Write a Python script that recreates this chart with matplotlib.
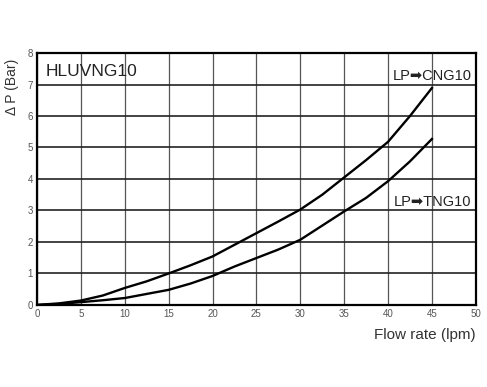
import numpy as np
import matplotlib
matplotlib.use("Agg")
from matplotlib import pyplot as plt

plt.rcParams['font.family'] = ['Liberation Sans', 'DejaVu Sans']

# data
flow = [0, 2.5, 5, 7.5, 10, 12.5, 15, 17.5, 20, 22.5, 25, 27.5, 30, 32.5, 35, 37.5, 40, 42.5, 45]
dp_cng = [0, 0.05, 0.14, 0.3, 0.54, 0.75, 1.0, 1.26, 1.54, 1.91, 2.28, 2.65, 3.03, 3.5, 4.05, 4.6, 5.18, 6.0, 6.89]
dp_tng = [0, 0.03, 0.09, 0.15, 0.22, 0.35, 0.48, 0.68, 0.92, 1.22, 1.49, 1.76, 2.07, 2.52, 2.97, 3.4, 3.93, 4.56, 5.27]

fig = plt.figure(figsize=(4.87, 3.87), dpi=100)
ax = fig.add_axes([0.076, 0.212, 0.901, 0.651])

ax.plot(flow, dp_cng, color='black', lw=1.7)
ax.plot(flow, dp_tng, color='black', lw=1.7)

ax.set_xlim(0, 50)
ax.set_ylim(0, 8)
ax.set_xticks(np.arange(0, 51, 5))
ax.set_yticks(np.arange(0, 9, 1))
ax.grid(True, axis='y', color='#222222', lw=1.2)
ax.grid(True, axis='x', color='#555555', lw=0.9)
ax.tick_params(length=0, labelsize=7, labelcolor='#555555', pad=3)
for s in ax.spines.values():
    s.set_linewidth(1.6)
    s.set_color('black')

ax.text(1.0, 7.4, 'HLUVNG10', fontsize=12.5, color='#222222', va='center')
ax.text(49.5, 7.27, 'LP➡CNG10', fontsize=10.5, ha='right', va='center', color='#222222')
ax.text(49.5, 3.27, 'LP➡TNG10', fontsize=10.5, ha='right', va='center', color='#222222')

fig.text(0.024, 0.775, 'Δ P (Bar)', rotation=90, fontsize=10, color='#333333', ha='center', va='center')
fig.text(0.977, 0.135, 'Flow rate (lpm)', fontsize=11, color='#333333', ha='right', va='center')

fig.savefig('out.png', dpi=100)
